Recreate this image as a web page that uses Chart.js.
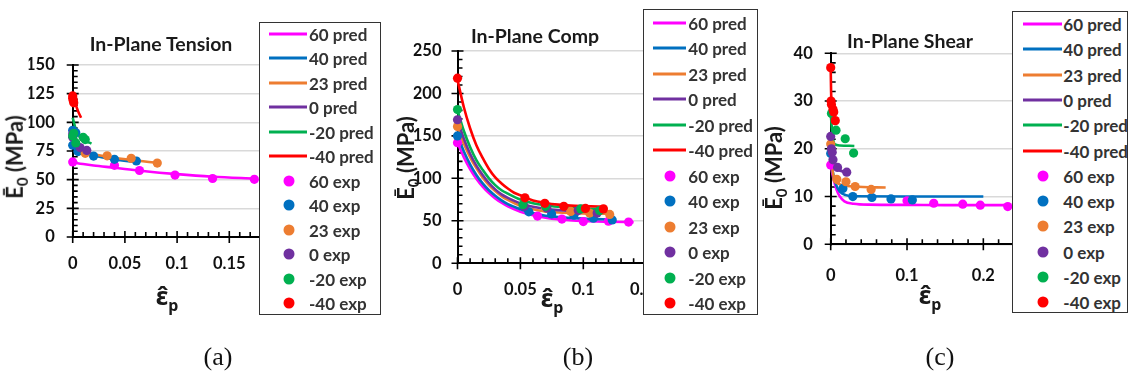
<!DOCTYPE html>
<html><head><meta charset="utf-8">
<script src="https://cdn.jsdelivr.net/npm/chart.js@4.4.1/dist/chart.umd.min.js"></script>
<style>
html,body{margin:0;padding:0;background:#fff;}
body{width:1129px;height:384px;overflow:hidden;position:relative;font-family:Lato,sans-serif;}
canvas{position:absolute;}
.ttl{position:absolute;transform:translate(-50%,-50%);font-weight:bold;font-size:19.5px;font-family:Lato;white-space:nowrap;color:#1a1a1a;}
.ytl{position:absolute;transform:translate(-50%,-50%) rotate(-90deg);font-weight:bold;font-size:22px;font-family:Lato;white-space:nowrap;color:#1a1a1a;line-height:1;}
.ytl sub{font-size:15px;}
.xtl{position:absolute;transform:translate(-50%,-50%);font-weight:bold;font-size:25px;font-family:'Noto Sans';white-space:nowrap;color:#1a1a1a;line-height:1;}
.xtl sub{font-size:16px;}
.leg{position:absolute;background:#fff;border:1.5px solid #333;box-sizing:border-box;}
.lrow{position:absolute;font-weight:bold;font-size:17px;font-family:Lato;color:#333;white-space:nowrap;transform:translateY(-50%);line-height:1;}
.lline{position:absolute;height:3px;transform:translateY(-50%);}
.ldot{position:absolute;width:11px;height:11px;border-radius:50%;transform:translate(-50%,-50%);}
.plab{position:absolute;transform:translate(-50%,-50%);font-size:26px;font-family:'Liberation Serif';color:#111;}
</style></head>
<body>
<canvas id="cA"></canvas>
<canvas id="cB"></canvas>
<canvas id="cC"></canvas>
<div class="ttl" style="left:161px;top:43px">In-Plane Tension</div>
<div class="ttl" style="left:535px;top:35px">In-Plane Comp</div>
<div class="ttl" style="left:910px;top:40px">In-Plane Shear</div>
<div class="ytl" style="left:17px;top:157px">Ē<sub>0</sub> (MPa)</div>
<div class="ytl" style="left:408px;top:158px">Ē<sub>0</sub> (MPa)</div>
<div class="ytl" style="left:776px;top:168px">Ē<sub>0</sub> (MPa)</div>
<div class="xtl" style="left:167px;top:298px">ε̂<sub>p</sub></div>
<div class="xtl" style="left:552px;top:300px">ε̂<sub>p</sub></div>
<div class="xtl" style="left:930px;top:297px">ε̂<sub>p</sub></div>
<div class="plab" style="left:218px;top:357px">(a)</div>
<div class="plab" style="left:578px;top:357px">(b)</div>
<div class="plab" style="left:940px;top:357px">(c)</div>
<script>
// ---- series ----
const seriesTemps = ['60', '40', '23', '0', '-20', '-40'];
const seriesColors = ['#FF00FF', '#0070C0', '#ED7D31', '#7030A0', '#00B050', '#FF0000'];

// ---- tick labels ----
const tensionXTicks = [0, 0.05, 0.1, 0.15, 0.2];
const tensionYTicks = [0, 25, 50, 75, 100, 125, 150];
const compXTicks = [0, 0.05, 0.1, 0.15];
const compYTicks = [0, 50, 100, 150, 200, 250];
const shearXTicks = [0, 0.1, 0.2];
const shearYTicks = [0, 10, 20, 30, 40];

// ---- (a) In-Plane Tension ----
const tension60Pred = [[0,65],[0.01,63.6],[0.02,62.4],[0.04,60.4],[0.065,57.8],[0.1,54.8],[0.134,52.6],[0.175,51]];
const tension40Pred = [[0,84],[0.005,78],[0.01,75],[0.02,71.3],[0.04,67.6],[0.06,65.5]];
const tension23Pred = [[0,80],[0.01,74.5],[0.03,70.5],[0.055,67.3],[0.082,64.5]];
const tension0Pred = [[0,89],[0.005,80.5],[0.013,76]];
const tensionM20Pred = [[0,104],[0.003,94],[0.008,86],[0.018,81.5]];
const tensionM40Pred = [[0,124],[0.002,118],[0.005,110],[0.008,104]];
const tension60Exp = [[0,65.5],[0.04,62.5],[0.064,58],[0.098,54],[0.134,51],[0.174,50.3]];
const tension40Exp = [[0,93],[0.003,91],[0,80],[0.005,74.5],[0.02,70.6],[0.04,67.7],[0.061,66.3]];
const tension23Exp = [[0.012,73],[0.033,70.8],[0.056,68.6],[0.081,64.5]];
const tension0Exp = [[0,90],[0,87],[0.007,78],[0.0135,75.5]];
const tensionM20Exp = [[0,88],[0.001,90.5],[0.003,82],[0.01,87],[0.012,85]];
const tensionM40Exp = [[0,123],[0,121],[0.0005,119],[0.001,117]];

// ---- (b) In-Plane Comp ----
const comp60Pred = [[0,142],[0.005,125],[0.01,111],[0.015,99.6],[0.02,90.2],[0.025,82.6],[0.03,76.3],[0.035,71.2],[0.04,67],[0.05,60.7],[0.06,56.5],[0.07,53.7],[0.08,51.8],[0.1,49.7],[0.12,48.8],[0.14,48.3]];
const comp40Pred = [[0,150],[0.005,132],[0.01,116.5],[0.015,104],[0.02,94],[0.025,86],[0.03,79.5],[0.035,74],[0.04,69.5],[0.05,63.5],[0.06,59],[0.07,56],[0.08,54.5],[0.1,52.5],[0.123,51.5]];
const comp23Pred = [[0,161],[0.005,141],[0.01,125],[0.015,112],[0.02,101],[0.025,92],[0.03,85],[0.035,79],[0.04,74.5],[0.05,67.5],[0.06,63.5],[0.07,61],[0.08,59.8],[0.1,58.7],[0.122,58.3]];
const comp0Pred = [[0,169],[0.005,147],[0.01,129],[0.015,115],[0.02,104],[0.025,94.5],[0.03,87],[0.035,81],[0.04,77],[0.05,70.5],[0.06,66.5],[0.07,64],[0.08,62.5],[0.1,61],[0.115,60.6]];
const compM20Pred = [[0,180],[0.005,156],[0.01,137],[0.015,121.5],[0.02,110],[0.025,100],[0.03,92],[0.035,86],[0.04,82],[0.05,75],[0.06,70.5],[0.07,68],[0.08,66.5],[0.1,64.5],[0.115,63.8]];
const compM40Pred = [[0,216],[0.005,184],[0.01,159],[0.015,139],[0.02,124],[0.025,111],[0.03,101],[0.035,94],[0.04,88],[0.045,83],[0.05,80],[0.06,74],[0.07,71],[0.08,69],[0.09,67.8],[0.1,67.2],[0.118,66.5]];
const comp60Exp = [[0,142],[0.0636,55.5],[0.083,52],[0.1,49],[0.12,49.5],[0.136,48.4]];
const comp40Exp = [[0,150],[0.0567,60.5],[0.0748,58],[0.0925,56.5],[0.108,53],[0.123,51]];
const comp23Exp = [[0,161],[0.07,65],[0.09,61],[0.105,59],[0.121,57.5]];
const comp0Exp = [[0,169],[0.053,67],[0.071,65],[0.096,62],[0.111,59]];
const compM20Exp = [[0,181],[0.052,69],[0.07,67],[0.098,64],[0.113,62]];
const compM40Exp = [[0,218],[0.0536,77],[0.0694,70.5],[0.0845,67],[0.1017,64.5],[0.116,64]];

// ---- (c) In-Plane Shear ----
const shear60Pred = [[0,16.5],[0.004,13.5],[0.008,11.3],[0.012,10],[0.018,9],[0.03,8.5],[0.05,8.3],[0.1,8.25],[0.15,8.2],[0.235,8.2]];
const shear40Pred = [[0,19],[0.003,15],[0.007,12.5],[0.012,11],[0.02,10.3],[0.03,10.05],[0.1,10],[0.2,10]];
const shear23Pred = [[0,20.5],[0.002,16],[0.005,13.5],[0.01,12.7],[0.03,12.1],[0.072,11.9]];
const shear0Pred = [[0,22],[0.003,18],[0.008,16],[0.022,15]];
const shearM20Pred = [[0,27.5],[0.002,23.5],[0.005,21],[0.012,20.7],[0.031,20.6]];
const shearM40Pred = [[0,37],[0.0005,32],[0.0015,29],[0.003,27.5],[0.006,26]];
const shear60Exp = [[0,16.6],[0.1,9.1],[0.135,8.6],[0.173,8.4],[0.196,8.2],[0.232,7.9]];
const shear40Exp = [[0,19],[0.016,11.7],[0.029,10],[0.054,9.8],[0.079,9.5],[0.107,9.3]];
const shear23Exp = [[0,21],[0.008,13.6],[0.02,13.1],[0.032,12.1],[0.053,11.5]];
const shear0Exp = [[0,22.6],[0.001,20],[0.002,19.3],[0.003,17.7],[0.009,16.1],[0.021,15.1]];
const shearM20Exp = [[0.001,27.4],[0.007,23.9],[0.019,22.1],[0.03,19.1]];
const shearM40Exp = [[0,37],[0.0005,30],[0.001,29.3],[0.003,28.3],[0.004,27.7],[0.006,25.9]];

// ---------------------------------------------------------------
const axisTicksPlugin = {
  id: 'axisTicks',
  beforeDatasetsDraw(chart, args, opts) {
    const {ctx} = chart; const xs = chart.scales.x, ys = chart.scales.y;
    const x0 = xs.getPixelForValue(xs.min), y0 = ys.getPixelForValue(ys.min);
    ctx.save(); ctx.strokeStyle = '#000'; ctx.lineWidth = 1.6; ctx.beginPath();
    const nx = Math.round((xs.max - xs.min) / opts.xMinor);
    for (let i = 0; i <= nx; i++) {
      const v = xs.min + i * opts.xMinor; const p = xs.getPixelForValue(v);
      const major = opts.xMajor.some(t => Math.abs(t - v) < 1e-7);
      if (major) { ctx.moveTo(p, y0 - 6); ctx.lineTo(p, y0 + 6); }
      else { ctx.moveTo(p, y0); ctx.lineTo(p, y0 - 5); }
    }
    const ny = Math.round((ys.max - ys.min) / opts.yMinor);
    for (let i = 0; i <= ny; i++) {
      const v = ys.min + i * opts.yMinor; const p = ys.getPixelForValue(v);
      const major = opts.yMajor.some(t => Math.abs(t - v) < 1e-7);
      if (major) { ctx.moveTo(x0 - 6, p); ctx.lineTo(x0 + 6, p); }
      else { ctx.moveTo(x0, p); ctx.lineTo(x0 + 5, p); }
    }
    ctx.stroke(); ctx.restore();
  }
};

const toXY = arr => arr.map(([x, y]) => ({x, y}));

function buildDatasets(preds, exps) {
  const ds = [];
  preds.forEach((d, i) => ds.push({
    label: seriesTemps[i] + ' pred', data: toXY(d), showLine: true, borderColor: seriesColors[i],
    backgroundColor: seriesColors[i], borderWidth: 2.6, pointRadius: 0, cubicInterpolationMode: 'monotone',
    clip: false, order: 20 - i
  }));
  exps.forEach((d, i) => ds.push({
    label: seriesTemps[i] + ' exp', data: toXY(d), showLine: false, backgroundColor: seriesColors[i],
    borderColor: seriesColors[i], borderWidth: 0, pointRadius: 4.6, clip: false, order: 14 - i
  }));
  return ds;
}

function makeChart(id, box, area, xr, yr, xTicks, yTicks, xMinor, yMinor, xPad, yPad, preds, exps) {
  const cv = document.getElementById(id);
  cv.width = box.w; cv.height = box.h;
  cv.style.left = box.l + 'px'; cv.style.top = box.t + 'px';
  cv.style.width = box.w + 'px'; cv.style.height = box.h + 'px';
  const yW = 44, xH = 44;
  const tickFont = {family: 'Lato', weight: 'bold', size: 16.5};
  return new Chart(cv, {
    type: 'scatter',
    data: {datasets: buildDatasets(preds, exps)},
    options: {
      responsive: false, animation: false, events: [], devicePixelRatio: 1,
      layout: {padding: {left: area.L - box.l - yW, top: area.T - box.t, right: box.l + box.w - area.R, bottom: box.t + box.h - area.B - xH}},
      plugins: {legend: {display: false}, tooltip: {enabled: false},
        axisTicks: {xMinor, yMinor, xMajor: xTicks, yMajor: yTicks}},
      scales: {
        x: {type: 'linear', min: xr[0], max: xr[1],
          afterBuildTicks: s => { s.ticks = xTicks.map(v => ({value: v})); },
          afterFit: s => { s.height = xH; },
          ticks: {callback: v => String(v), font: tickFont, color: '#111', padding: xPad, maxRotation: 0, autoSkip: false},
          grid: {display: false, drawTicks: false},
          border: {display: true, color: '#000', width: 2}},
        y: {type: 'linear', min: yr[0], max: yr[1],
          afterBuildTicks: s => { s.ticks = yTicks.map(v => ({value: v})); },
          afterFit: s => { s.width = yW; },
          ticks: {callback: v => String(v), font: tickFont, color: '#111', padding: yPad, autoSkip: false},
          grid: {display: true, color: '#D9D9D9', lineWidth: 1.6, drawTicks: false},
          border: {display: true, color: '#000', width: 2}}
      }
    },
    plugins: [axisTicksPlugin]
  });
}

makeChart('cA', {l: 0, t: 0, w: 380, h: 320}, {L: 72.7, T: 65, R: 281.5, B: 237}, [0, 0.2], [0, 150],
  tensionXTicks, tensionYTicks, 0.01, 5, 17, 18,
  [tension60Pred, tension40Pred, tension23Pred, tension0Pred, tensionM20Pred, tensionM40Pred],
  [tension60Exp, tension40Exp, tension23Exp, tension0Exp, tensionM20Exp, tensionM40Exp]);
makeChart('cB', {l: 380, t: 0, w: 380, h: 320}, {L: 457.5, T: 51, R: 646.2, B: 263.2}, [0, 0.15], [0, 250],
  compXTicks, compYTicks, 0.01, 10, 17, 16,
  [comp60Pred, comp40Pred, comp23Pred, comp0Pred, compM20Pred, compM40Pred],
  [comp60Exp, comp40Exp, comp23Exp, comp0Exp, compM20Exp, compM40Exp]);
makeChart('cC', {l: 760, t: 0, w: 369, h: 320}, {L: 830.7, T: 53.3, R: 1021.5, B: 244.3}, [0, 0.25], [0, 40],
  shearXTicks, shearYTicks, 0.02, 2, 21, 18,
  [shear60Pred, shear40Pred, shear23Pred, shear0Pred, shearM20Pred, shearM40Pred],
  [shear60Exp, shear40Exp, shear23Exp, shear0Exp, shearM20Exp, shearM40Exp]);

// ---- legends (HTML boxes overlaying the plot edge) ----
function makeLegend(box, row0, step, lineL, lineR, dotX, textX) {
  const leg = document.createElement('div');
  leg.className = 'leg';
  Object.assign(leg.style, {left: box.l + 'px', top: box.t + 'px', width: (box.r - box.l) + 'px', height: (box.b - box.t) + 'px'});
  document.body.appendChild(leg);
  const add = (html) => { const w = document.createElement('div'); w.innerHTML = html; const el = w.firstChild; document.body.appendChild(el); return el; };
  let k = 0;
  ['pred', 'exp'].forEach(kind => {
    seriesTemps.forEach((t, i) => {
      const y = row0 + step * k; k++;
      if (kind === 'pred') {
        add(`<div class="lline" style="left:${lineL}px;top:${y}px;width:${lineR - lineL}px;background:${seriesColors[i]}"></div>`);
      } else {
        add(`<div class="ldot" style="left:${dotX}px;top:${y}px;background:${seriesColors[i]}"></div>`);
      }
      add(`<div class="lrow" style="left:${textX}px;top:${y}px">${t} ${kind}</div>`);
    });
  });
}
makeLegend({l: 259, t: 22, r: 381, b: 315}, 34, 24.45, 269, 307, 289, 309);
makeLegend({l: 643, t: 9.3, r: 758.3, b: 315}, 23, 25.45, 652.7, 686, 670, 688.3);
makeLegend({l: 1011.7, t: 11, r: 1128, b: 313}, 24, 25.3, 1023, 1062, 1043, 1063.3);
</script>
</body></html>
